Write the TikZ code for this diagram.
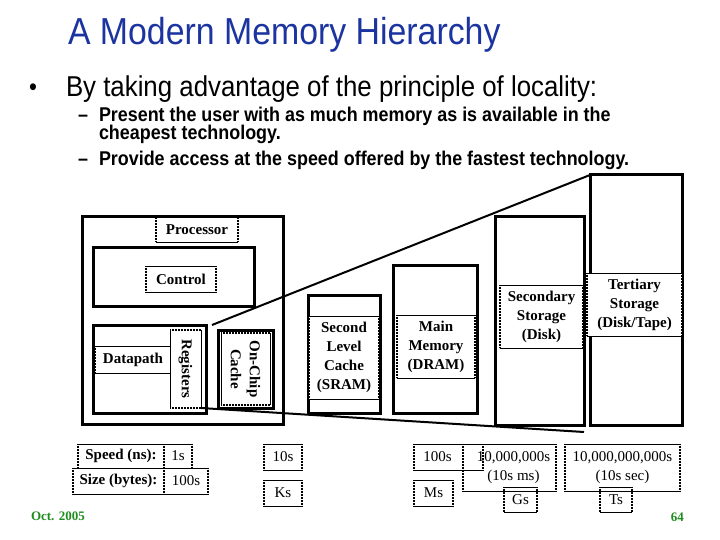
\documentclass[tikz,border=0pt]{standalone}
\usepackage{fontspec}
\setmainfont{Liberation Serif}
\newfontfamily\arialf[FakeStretch=0.9]{Liberation Sans}
\definecolor{titleblue}{RGB}{28,52,160}
\definecolor{footgreen}{RGB}{30,140,30}
\newcommand\dgfont{\fontsize{15}{19}\selectfont}
\newcommand\bx[7]{\node[#6, minimum width={(#4-#2)*1pt}, minimum height={(#5-#3)*1pt}] (#1) at ({(#2+#4)/2},{(#3+#5)/2}) {#7};}
\tikzset{
  tbox/.style={draw, line width=3pt, inner sep=0pt, outer sep=0pt},
  dotline/.style={line width=1.6pt, dash pattern=on 0.6pt off 0.9pt},
  edgebox/.style={inner sep=0pt, outer sep=0pt, align=center,
    append after command={
      (\tikzlastnode.north west) edge[line width=0.6pt] (\tikzlastnode.north east)
      (\tikzlastnode.south west) edge[line width=0.6pt] (\tikzlastnode.south east)
      (\tikzlastnode.north west) edge[dotline] (\tikzlastnode.south west)
      (\tikzlastnode.north east) edge[dotline] (\tikzlastnode.south east)
    }},
  lab/.style={edgebox, fill=white, font=\dgfont\bfseries},
  tabb/.style={edgebox, font=\dgfont\bfseries},
  tabr/.style={edgebox, font=\dgfont},
  conn/.style={line width=2pt},
  slide/.style={anchor=base west, inner sep=0pt, outer sep=0pt}
}
\begin{document}
\begin{tikzpicture}[x=1pt,y=-1pt]
\useasboundingbox (0,0) rectangle (720,540);
% slide text
\node[slide, font=\arialf\fontsize{37.6}{40}\selectfont, text=titleblue] (title) at (68,45) {A Modern Memory Hierarchy};
\node[slide, font=\arialf\fontsize{25}{27}\selectfont] (bul) at (29,96) {•};
\node[slide, font=\arialf\fontsize{28.7}{32}\selectfont] (b1) at (66,97) {By taking advantage of the principle of locality:};
\node[slide, font=\arialf\bfseries\fontsize{19.9}{22}\selectfont] (d1) at (78,122) {–};
\node[slide, font=\arialf\bfseries\fontsize{19.9}{22}\selectfont] (s1) at (99,122) {Present the user with as much memory as is available in the};
\node[slide, font=\arialf\bfseries\fontsize{19.9}{22}\selectfont] (s1b) at (99,140) {cheapest technology.};
\node[slide, font=\arialf\bfseries\fontsize{19.9}{22}\selectfont] (d2) at (78,166) {–};
\node[slide, font=\arialf\bfseries\fontsize{19.9}{22}\selectfont] (s2) at (99,166) {Provide access at the speed offered by the fastest technology.};
% thick boxes
\bx{proc}{82}{217}{283}{424}{tbox}{}
\bx{ctrl}{93}{247}{254}{306}{tbox}{}
\bx{dp}{93}{325}{206}{413}{tbox}{}
\bx{occ}{218}{330}{273}{408}{tbox}{}
\bx{slc}{308}{295}{380}{413}{tbox}{}
\bx{mm}{393}{265}{477}{413}{tbox}{}
\bx{sec}{495}{217}{584}{425}{tbox}{}
\bx{ter}{590}{175}{682}{425}{tbox}{}
% connectors of the hierarchy outline
\coordinate (uA) at (212,325);
\coordinate (lA) at (201,408);
\coordinate (lB) at (584,432);
\draw[conn] (uA) -- (ter.north west);
\draw[conn] (lA) -- (lB);
% labels
\bx{procl}{156}{217}{238}{242}{lab}{Processor}
\bx{ctrll}{146}{266}{216}{292}{lab}{Control}
\bx{dpl}{95}{346}{171}{373}{lab}{Datapath}
\node[lab, rotate=-90, minimum width=78pt, minimum height=31pt] (regl) at (185.5,369) {Registers};
\node[lab, rotate=-90, minimum width=72pt, minimum height=49pt] (occl) at (245.5,369) {On-Chip\\Cache};
\bx{slcl}{309}{316}{379}{399}{lab}{Second\\Level\\Cache\\(SRAM)}
\bx{mml}{397}{315}{475}{378}{lab}{Main\\Memory\\(DRAM)}
\bx{secl}{500}{285}{583}{348}{lab}{Secondary\\Storage\\(Disk)}
\bx{terl}{587}{273}{682}{336}{lab}{Tertiary\\Storage\\(Disk/Tape)}
% table
\bx{spd}{78}{444}{164}{468}{tabb}{Speed (ns):}
\bx{siz}{73}{468}{164}{494}{tabb}{Size (bytes):}
\bx{sp1}{164}{444}{192}{468}{tabr}{1s}
\bx{sz1}{164}{468}{208}{494}{tabr}{100s}
\bx{sp2}{264}{444}{302}{470}{tabr}{10s}
\bx{sz2}{264}{480}{302}{506}{tabr}{Ks}
\bx{sp3}{414}{444}{483}{470}{tabr}{100s\hspace*{22pt}}
\bx{sz3}{414}{480}{453}{506}{tabr}{Ms}
\bx{sp4}{463}{444}{556}{491}{tabr}{\hspace*{8pt}10,000,000s\\\hspace*{8pt}(10s ms)}
\bx{sp5}{565}{444}{680}{491}{tabr}{10,000,000,000s\\(10s sec)}
\bx{sz4}{504}{487}{537}{512}{tabr}{Gs}
\bx{sz5}{600}{487}{632}{512}{tabr}{Ts}
% footer
\node[slide, font=\bfseries\fontsize{13}{13}\selectfont, text=footgreen] (date) at (31,520) {Oct. 2005};
\node[anchor=base east, inner sep=0pt, font=\bfseries\fontsize{13}{13}\selectfont, text=footgreen] (pg) at (684,521) {64};
\end{tikzpicture}
\end{document}
